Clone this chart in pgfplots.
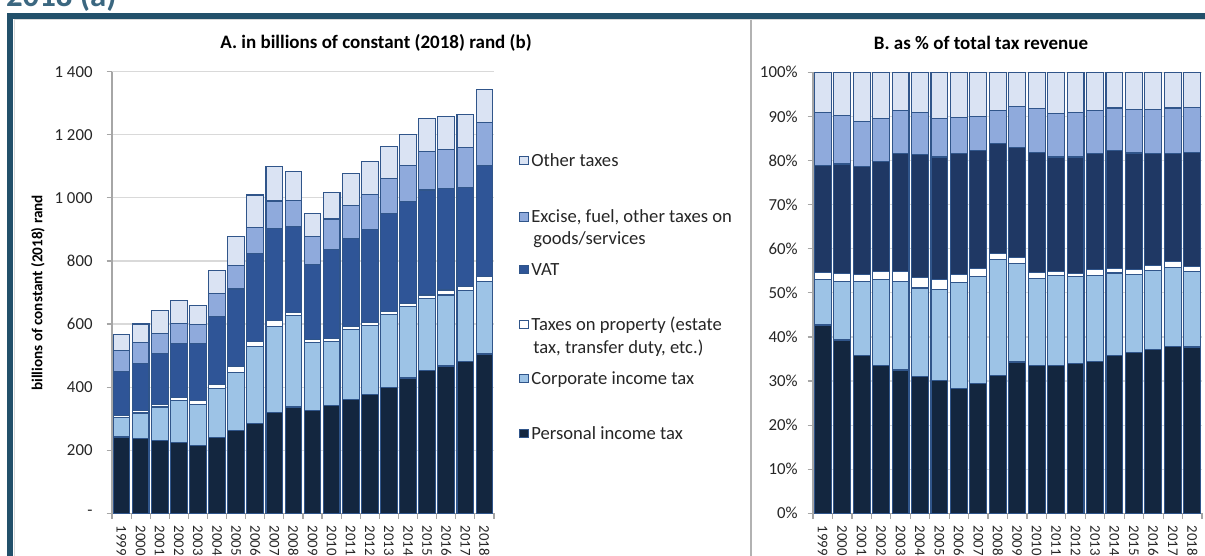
\documentclass[border=0pt]{standalone}
\usepackage{fontspec}
\setmainfont{Carlito}
\usepackage{pgfplots}
\usepackage{pgfplotstable}
\pgfplotsset{compat=1.18}
\definecolor{framec}{HTML}{22506A}
\definecolor{ttl}{HTML}{3B6780}
\definecolor{cpers}{HTML}{13263F}
\definecolor{ccorp}{HTML}{9DC3E6}
\definecolor{cvat}{HTML}{2F5597}
\definecolor{cvatb}{HTML}{1F3864}
\definecolor{cexc}{HTML}{8FAADC}
\definecolor{coth}{HTML}{DAE3F3}
\definecolor{edge}{HTML}{30558A}
\definecolor{gridc}{HTML}{D9D9D9}
\definecolor{axc}{HTML}{A6A6A6}

% billions of constant 2018 rand, stacked pieces
\pgfplotstableread{
x pers corp prop vat exc oth
0 242 61 7.5 140 65.5 52
1 236 82 8 150 66 58
2 230.5 106.5 8 162 63.5 71.5
3 224 134 9 172 64 72
4 214 131 13 179 62 59
5 240 155 13 215 74 72
6 263 184 18 246 76 90
7 284 244 17 280 80 104
8 321 271 20 291 87 110
9 337 289 11 272 83 92
10 325 216 11 237 88 73
11 342 202 11 280 98 85
12 362 221 9 280 105 101
13 376 219 9 297 111 102
14 398 231 10 312 111 100
15 429 226 11 322 115 97
16 453 227 12 333 123 105
17 467 225 16 321 125 105
18 480 225 15 313 128 104
19 505 231 16 351 136 106
}\absdata

% share of total tax revenue, %
\pgfplotstableread{
x pers corp prop vat exc oth
0 42.7 10.3 1.7 24.2 11.9 9.2
1 39.3 13.3 1.7 24.9 11.1 9.7
2 35.8 16.7 1.7 24.4 10.3 11.1
3 33.5 19.6 1.7 25.0 9.7 10.5
4 32.5 20.1 2.2 26.8 9.7 8.7
5 31.1 20.0 2.3 28.0 9.5 9.1
6 30.1 20.6 2.4 27.7 8.8 10.4
7 28.3 24.0 1.9 27.4 8.2 10.2
8 29.5 24.2 1.9 26.6 7.8 10.0
9 31.2 26.3 1.5 24.9 7.5 8.6
10 34.3 22.3 1.5 24.9 9.3 7.7
11 33.6 19.7 1.3 27.2 9.9 8.3
12 33.6 20.4 0.9 25.9 9.9 9.3
13 33.9 19.7 0.8 26.4 10.1 9.1
14 34.4 19.6 1.2 26.4 9.8 8.6
15 35.8 18.7 1.1 26.6 9.7 8.1
16 36.4 17.7 1.1 26.5 9.9 8.4
17 37.1 17.9 1.2 25.4 10.0 8.4
18 37.9 17.9 1.2 24.6 10.3 8.1
19 37.7 17.1 1.1 26.0 10.1 8.0
}\pctdata

\pgfplotsset{
  taxpanel/.style={
    scale only axis, anchor=south west,
    ybar stacked, bar width=0.87,
    xmin=-0.5, xmax=19.5, ymin=0,
    xtick={0,...,19},
    xticklabels={1999,2000,2001,2002,2003,2004,2005,2006,2007,2008,2009,2010,2011,2012,2013,2014,2015,2016,2017,2018},
    minor xtick={-0.5,0.5,...,19.5},
    axis x line*=bottom, axis y line*=left,
    axis line style={draw=axc,line width=0.6pt},
    ymajorgrids, grid style={draw=gridc,line width=0.6pt},
    tick align=outside, major tick length=2.7pt, minor tick length=2.7pt,
    tick style={draw=axc,line width=0.6pt},
    major x tick style={draw=none},
    xticklabel style={rotate=-90,anchor=west,font=\fontsize{7.4}{8}\selectfont,text=black!85},
    yticklabel style={font=\fontsize{8.4}{9}\selectfont,text=black!85},
    every axis plot/.append style={draw=edge,line width=0.55pt},
  }
}

\begin{document}
\begin{tikzpicture}
\clip (0pt,0pt) rectangle (602.5pt,-278pt);
\fill[white] (0pt,0pt) rectangle (602.5pt,-278pt);

\begin{scope}[x=0.5pt,y=-0.5pt]
  \node[anchor=base west,text=ttl,font=\bfseries\fontsize{16.4}{18}\selectfont] at (-1,6.7) {2018 (a)};
  \draw[framec,line width=3pt] (10.3,15.8) rectangle (1230,620);
  \draw[gridc,line width=0.5pt] (14,19.5) rectangle (1226,616);
  \draw[black!30,line width=0.6pt] (751,20) -- (751,600);

  \node[font=\bfseries\fontsize{9.5}{11}\selectfont] at (376,43) {A. in billions of constant (2018) rand (b)};
  \node[font=\bfseries\fontsize{9.5}{11}\selectfont] at (981,43) {B. as \% of total tax revenue};
  \node[rotate=90,font=\bfseries\fontsize{7.6}{9}\selectfont] at (38,293) {billions of constant (2018) rand};

  % legend
  \begin{scope}[font=\fontsize{9.3}{11}\selectfont,text=black!85]
    \filldraw[fill=coth,draw=edge,line width=0.5pt] (519.5,156.5) rectangle (528,165);
    \node[anchor=base west,inner sep=0pt] at (531,166.5) {Other taxes};
    \filldraw[fill=cexc,draw=edge,line width=0.5pt] (519.5,212.5) rectangle (528,221);
    \node[anchor=base west,inner sep=0pt] at (531,222.3) {Excise, fuel, other taxes on};
    \node[anchor=base west,inner sep=0pt] at (533,244) {goods/services};
    \filldraw[fill=cvat,draw=edge,line width=0.5pt] (519.5,265) rectangle (528,273.5);
    \node[anchor=base west,inner sep=0pt] at (531,275) {VAT};
    \filldraw[fill=white,draw=edge,line width=0.5pt] (519.5,320) rectangle (528,328.5);
    \node[anchor=base west,inner sep=0pt] at (531,330) {Taxes on property (estate};
    \node[anchor=base west,inner sep=0pt] at (533,353.3) {tax, transfer duty, etc.)};
    \filldraw[fill=ccorp,draw=edge,line width=0.5pt] (519.5,374) rectangle (528,382.5);
    \node[anchor=base west,inner sep=0pt] at (531,384) {Corporate income tax};
    \filldraw[fill=cpers,draw=edge,line width=0.5pt] (519.5,429) rectangle (528,437.5);
    \node[anchor=base west,inner sep=0pt] at (531,439) {Personal income tax};
  \end{scope}
\end{scope}

\begin{axis}[taxpanel,
  at={(56pt,-256.65pt)}, width=191pt, height=220.8pt,
  ymax=1400, ytick={0,200,...,1400},
  yticklabel style={xshift=-3.5pt},
  yticklabels={-,200,400,600,800,1 000,1 200,1 400}]
  \addplot[fill=cpers] table[x=x,y=pers]{\absdata};
  \addplot[fill=ccorp] table[x=x,y=corp]{\absdata};
  \addplot[fill=white] table[x=x,y=prop]{\absdata};
  \addplot[fill=cvat] table[x=x,y=vat]{\absdata};
  \addplot[fill=cexc] table[x=x,y=exc]{\absdata};
  \addplot[fill=coth] table[x=x,y=oth]{\absdata};
\end{axis}

\begin{axis}[taxpanel,
  at={(406.5pt,-256.65pt)}, width=194.5pt, height=220.5pt,
  ymax=100, ytick={0,10,...,100},
  yticklabel style={xshift=-1.5pt},
  yticklabels={0\%,10\%,20\%,30\%,40\%,50\%,60\%,70\%,80\%,90\%,100\%}]
  \addplot[fill=cpers] table[x=x,y=pers]{\pctdata};
  \addplot[fill=ccorp] table[x=x,y=corp]{\pctdata};
  \addplot[fill=white] table[x=x,y=prop]{\pctdata};
  \addplot[fill=cvatb] table[x=x,y=vat]{\pctdata};
  \addplot[fill=cexc] table[x=x,y=exc]{\pctdata};
  \addplot[fill=coth] table[x=x,y=oth]{\pctdata};
\end{axis}
\end{tikzpicture}
\end{document}
